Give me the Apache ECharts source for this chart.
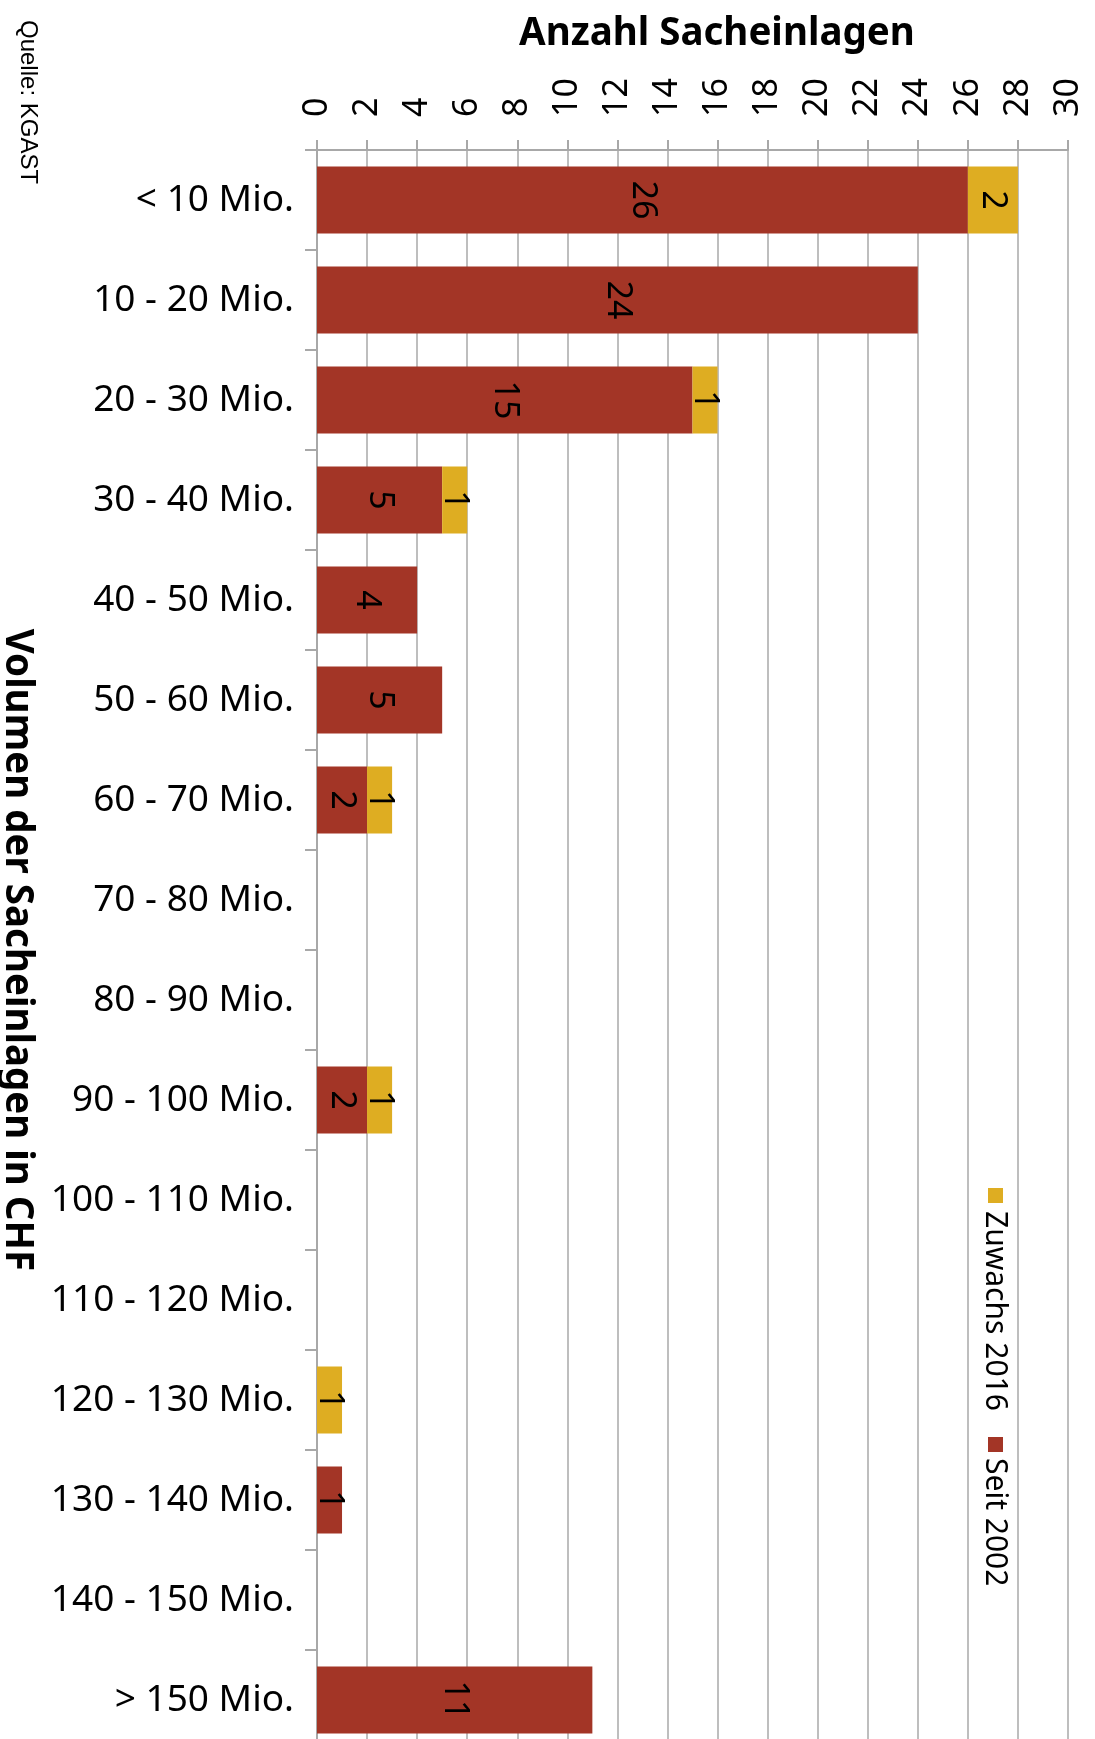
<!DOCTYPE html>
<html>
<head>
<meta charset="utf-8">
<title>Anzahl Sacheinlagen</title>
<script src="https://cdn.jsdelivr.net/npm/echarts@6/dist/echarts.min.js"></script>
<style>
  html, body { margin: 0; padding: 0; background: #fff; }
  #chart { width: 1095px; height: 1739px; }
</style>
</head>
<body>
<div id="chart"></div>
<script>
// Volume classes of contributions in kind (top to bottom)
const categories = [
  '< 10 Mio.', '10 - 20 Mio.', '20 - 30 Mio.', '30 - 40 Mio.', '40 - 50 Mio.',
  '50 - 60 Mio.', '60 - 70 Mio.', '70 - 80 Mio.', '80 - 90 Mio.', '90 - 100 Mio.',
  '100 - 110 Mio.', '110 - 120 Mio.', '120 - 130 Mio.', '130 - 140 Mio.',
  '140 - 150 Mio.', '> 150 Mio.'
];
// Count since 2002
const seit2002 = [26, 24, 15, 5, 4, 5, 2, 0, 0, 2, 0, 0, 0, 1, 0, 11];
// Additions in 2016
const zuwachs2016 = [2, 0, 1, 1, 0, 0, 1, 0, 0, 1, 0, 0, 1, 0, 0, 0];

const valueMin = 0;
const valueMax = 30;
const valueStep = 2;

const RED = '#A33526';
const YELLOW = '#DEAD22';
const GRID_GREY = '#A8A8A8';
const FONT = "'Noto Sans', 'Open Sans', sans-serif";

const chart = echarts.init(document.getElementById('chart'), null, { renderer: 'canvas' });

const barLabel = {
  show: true,
  position: 'inside',
  rotate: -90,
  color: '#000',
  fontFamily: FONT,
  fontSize: 34,
  formatter: p => (p.value ? String(p.value) : '')
};

chart.setOption({
  animation: false,
  backgroundColor: '#fff',
  title: {
    text: 'Anzahl Sacheinlagen',
    left: 514,
    top: 10,
    textStyle: { fontFamily: FONT, fontWeight: 'bold', fontSize: 38.5, color: '#000' }
  },
  grid: { left: 317, right: 27, top: 150, bottom: -11, containLabel: false, outerBoundsMode: 'none' },
  xAxis: {
    type: 'value',
    position: 'top',
    min: valueMin,
    max: valueMax,
    interval: valueStep,
    axisLine: { show: true, lineStyle: { color: GRID_GREY, width: 2 } },
    axisTick: { show: true, length: 10, lineStyle: { color: GRID_GREY, width: 2 } },
    splitLine: { show: true, lineStyle: { color: GRID_GREY, width: 1.5 } },
    axisLabel: { rotate: -90, margin: 33, color: '#000', fontFamily: FONT, fontSize: 34 }
  },
  yAxis: {
    type: 'category',
    data: categories,
    inverse: true,
    name: 'Volumen der Sacheinlagen in CHF',
    nameLocation: 'middle',
    nameRotate: -90,
    nameGap: 281,
    nameTextStyle: { fontFamily: FONT, fontWeight: 'bold', fontSize: 38.5, color: '#000' },
    axisLine: { show: true, lineStyle: { color: GRID_GREY, width: 2 } },
    axisTick: { show: true, length: 12, lineStyle: { color: GRID_GREY, width: 2 } },
    axisLabel: { margin: 23, color: '#000', fontFamily: FONT, fontSize: 37 }
  },
  series: [
    {
      name: 'Seit 2002',
      type: 'bar',
      stack: 'total',
      data: seit2002,
      barCategoryGap: '33%',
      itemStyle: { color: RED },
      label: barLabel
    },
    {
      name: 'Zuwachs 2016',
      type: 'bar',
      stack: 'total',
      data: zuwachs2016,
      barCategoryGap: '33%',
      itemStyle: { color: YELLOW },
      label: barLabel
    }
  ],
  graphic: [
    {
      type: 'text',
      x: 28, y: 20,
      rotation: -Math.PI / 2,
      style: { text: 'Quelle: KGAST', fill: '#000', font: "24px 'Liberation Sans', Arial, sans-serif",
               align: 'left', verticalAlign: 'middle' }
    },
    // rotated legend, reading top to bottom
    {
      type: 'group',
      x: 995, y: 1188,
      rotation: -Math.PI / 2,
      children: [
        { type: 'rect', shape: { x: 0, y: -8, width: 15, height: 15 }, style: { fill: YELLOW } },
        { type: 'text', x: 23, y: 0,
          style: { text: 'Zuwachs 2016', fill: '#000', font: "30px 'Noto Sans', sans-serif",
                   align: 'left', verticalAlign: 'middle' } },
        { type: 'rect', shape: { x: 249, y: -8, width: 15, height: 15 }, style: { fill: RED } },
        { type: 'text', x: 270, y: 0,
          style: { text: 'Seit 2002', fill: '#000', font: "30px 'Noto Sans', sans-serif",
                   align: 'left', verticalAlign: 'middle' } }
      ]
    }
  ]
});
</script>
</body>
</html>
